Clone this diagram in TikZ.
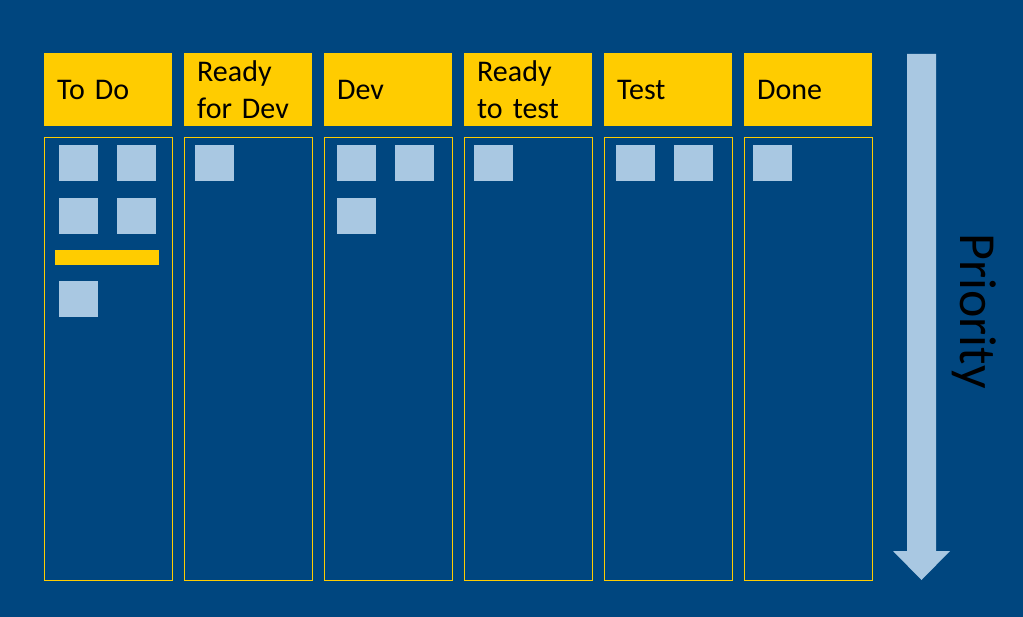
\documentclass[tikz,border=0pt]{standalone}
\usepackage{fontspec}
\setmainfont{Carlito}
\usetikzlibrary{positioning}
\definecolor{kbback}{HTML}{00467F}
\definecolor{kbhead}{HTML}{FFCC00}
\definecolor{kbcard}{HTML}{A9C8E2}
\tikzset{kbhead/.style={rectangle, fill=kbhead, anchor=north west, minimum width=128pt, minimum height=73pt, text width=102pt, inner xsep=13pt, inner ysep=0pt, align=left, font=\fontsize{30}{37}\selectfont, text=black}}
\tikzset{kbcol/.style={rectangle, draw=kbhead, line width=0.9pt, anchor=north west, minimum width=128pt, minimum height=443pt, inner sep=0pt}}
\tikzset{kbcard/.style={rectangle, fill=kbcard, anchor=north west, minimum width=39pt, minimum height=36pt, inner sep=0pt}}
\tikzset{kbbar/.style={rectangle, fill=kbhead, anchor=north west, minimum width=104pt, minimum height=15pt, inner sep=0pt}}
\begin{document}
\begin{tikzpicture}[x=1pt, y=-1pt]
  \fill[kbback] (0,0) rectangle (1023,617);
  \useasboundingbox (0,0) rectangle (1023,617);

  % column headers
  \node[kbhead] (htodo) at (44,53) {To Do};
  \node[kbhead] (hready) at (184,53) {Ready\\for Dev};
  \node[kbhead] (hdev) at (324,53) {Dev};
  \node[kbhead] (hreadytest) at (464,53) {Ready\\to test};
  \node[kbhead] (htest) at (604,53) {Test};
  \node[kbhead] (hdone) at (744,53) {Done};

  % columns
  \node[kbcol] (ctodo) at (44,137) {};
  \node[kbcol] (cready) at (184,137) {};
  \node[kbcol] (cdev) at (324,137) {};
  \node[kbcol] (creadytest) at (464,137) {};
  \node[kbcol] (ctest) at (604,137) {};
  \node[kbcol] (cdone) at (744,137) {};

  % cards
  \node[kbcard] (todoa) at (59,145) {};
  \node[kbcard] (todob) at (117,145) {};
  \node[kbcard] (todoc) at (59,198) {};
  \node[kbcard] (todod) at (117,198) {};
  \node[kbbar] (todoline) at (55,250) {};
  \node[kbcard] (todoe) at (59,281) {};
  \node[kbcard] (readya) at (195,145) {};
  \node[kbcard] (deva) at (337,145) {};
  \node[kbcard] (devb) at (395,145) {};
  \node[kbcard] (devc) at (337,198) {};
  \node[kbcard] (readytesta) at (474,145) {};
  \node[kbcard] (testa) at (616,145) {};
  \node[kbcard] (testb) at (674,145) {};
  \node[kbcard] (donea) at (753,145) {};

  % priority arrow
  \fill[kbcard] (907,54) -- (936,54) -- (936,551) -- (950,551) -- (921.5,580)
    -- (893,551) -- (907,551) -- cycle;
  \node[rotate=-90, font=\fontsize{52}{56}\selectfont, text=black] (priolabel) at (974,311) {Priority};
\end{tikzpicture}
\end{document}
